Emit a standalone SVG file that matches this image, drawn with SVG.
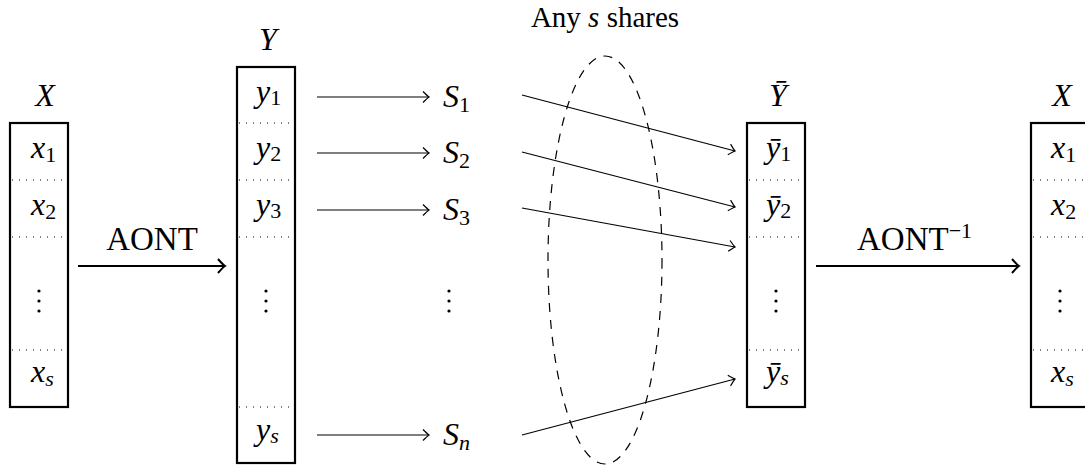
<svg xmlns="http://www.w3.org/2000/svg" width="1085" height="466" viewBox="0 0 1085 466" font-family="'Liberation Serif', 'Times New Roman', 'DejaVu Serif', serif">
<defs>
<style>
text{font-family:"Liberation Serif","Times New Roman",Tinos,"DejaVu Serif",serif;fill:#000}
.m{font-size:32px}
.big{font-size:33px}
.sub{font-size:22px;font-style:normal}
.i{font-style:italic}
.box{fill:none;stroke:#000;stroke-width:2.2}
.sep{stroke:#000;stroke-width:1;stroke-dasharray:1 6}
.thin{stroke:#000;stroke-width:1.2;fill:none}
.thick{stroke:#000;stroke-width:2;fill:none}
.ell{fill:none;stroke:#000;stroke-width:1.2;stroke-dasharray:9 8}
</style>
<marker id="ah" markerWidth="14" markerHeight="14" refX="0" refY="0" viewBox="-10 -7 12 14" orient="auto" markerUnits="userSpaceOnUse">
<path d="M-6,-5.5 Q-1.5,-1 0,0 Q-1.5,1 -6,5.5" fill="none" stroke="#000" stroke-width="1.2"/>
</marker>
<marker id="ahT" markerWidth="16" markerHeight="16" refX="0" refY="0" viewBox="-10 -8 12 16" orient="auto" markerUnits="userSpaceOnUse">
<path d="M-7,-7 Q-2,-1.2 0,0 Q-2,1.2 -7,7" fill="none" stroke="#000" stroke-width="2"/>
</marker>
<g id="vd"><circle cx="0" cy="-10" r="1.6"/><circle cx="0" cy="0" r="1.6"/><circle cx="0" cy="10" r="1.6"/></g>
</defs>
<rect width="1085" height="466" fill="#fff"/>

<g id="nodeX">
<text class="m i" x="45" y="106" text-anchor="middle">X</text>
<rect class="box" x="10" y="123" width="58" height="284"/>
<line class="sep" x1="12" y1="180" x2="66" y2="180"/>
<line class="sep" x1="12" y1="237" x2="66" y2="237"/>
<line class="sep" x1="12" y1="350" x2="66" y2="350"/>
<text class="m i" x="31" y="158">x<tspan class="sub" dy="4">1</tspan></text>
<text class="m i" x="31" y="215">x<tspan class="sub" dy="4">2</tspan></text>
<use href="#vd" x="39" y="301"/>
<text class="m i" x="31" y="382">x<tspan class="sub i" dy="4">s</tspan></text>
</g>

<g id="nodeY">
<text class="m i" x="268" y="50" text-anchor="middle">Y</text>
<rect class="box" x="237" y="67" width="58" height="396"/>
<line class="sep" x1="239" y1="123" x2="293" y2="123"/>
<line class="sep" x1="239" y1="180" x2="293" y2="180"/>
<line class="sep" x1="239" y1="237" x2="293" y2="237"/>
<line class="sep" x1="239" y1="407" x2="293" y2="407"/>
<text class="m i" x="256" y="102">y<tspan class="sub" dy="3">1</tspan></text>
<text class="m i" x="256" y="158">y<tspan class="sub" dy="3">2</tspan></text>
<text class="m i" x="256" y="215">y<tspan class="sub" dy="3">3</tspan></text>
<use href="#vd" x="266" y="301"/>
<text class="m i" x="256" y="440">y<tspan class="sub i" dy="3">s</tspan></text>
</g>

<g id="nodeS">
<text class="m i" x="443" y="107">S<tspan class="sub" dy="5">1</tspan></text>
<text class="m i" x="443" y="163">S<tspan class="sub" dy="5">2</tspan></text>
<text class="m i" x="443" y="220">S<tspan class="sub" dy="5">3</tspan></text>
<use href="#vd" x="449" y="301"/>
<text class="m i" x="443" y="445">S<tspan class="sub i" dy="5">n</tspan></text>
</g>

<g id="share-set">
<ellipse class="ell" cx="605" cy="260" rx="57" ry="204"/>
<text x="605" y="27" text-anchor="middle" style="font-size:29px">Any <tspan class="i">s</tspan> shares</text>
</g>

<g id="nodeYbar">
<text class="m i" x="778" y="106" text-anchor="middle">Ȳ</text>
<rect class="box" x="747" y="123" width="58" height="284"/>
<line class="sep" x1="749" y1="180" x2="803" y2="180"/>
<line class="sep" x1="749" y1="237" x2="803" y2="237"/>
<line class="sep" x1="749" y1="350" x2="803" y2="350"/>
<text class="m i" x="766" y="158">ȳ<tspan class="sub" dy="3">1</tspan></text>
<text class="m i" x="766" y="215">ȳ<tspan class="sub" dy="3">2</tspan></text>
<use href="#vd" x="776" y="301"/>
<text class="m i" x="766" y="382">ȳ<tspan class="sub i" dy="3">s</tspan></text>
</g>

<g id="nodeX2">
<text class="m i" x="1062" y="106" text-anchor="middle">X</text>
<rect class="box" x="1031" y="123" width="58" height="284"/>
<line class="sep" x1="1033" y1="180" x2="1087" y2="180"/>
<line class="sep" x1="1033" y1="237" x2="1087" y2="237"/>
<line class="sep" x1="1033" y1="350" x2="1087" y2="350"/>
<text class="m i" x="1051" y="158">x<tspan class="sub" dy="4">1</tspan></text>
<text class="m i" x="1051" y="215">x<tspan class="sub" dy="4">2</tspan></text>
<use href="#vd" x="1060" y="301"/>
<text class="m i" x="1051" y="382">x<tspan class="sub i" dy="4">s</tspan></text>
</g>

<g id="connectors">
<line class="thick" x1="78" y1="266" x2="225" y2="266" marker-end="url(#ahT)"/>
<text class="big" x="152" y="250" text-anchor="middle">AONT</text>
<line class="thin" x1="317" y1="97" x2="429" y2="97" marker-end="url(#ah)"/>
<line class="thin" x1="317" y1="153" x2="429" y2="153" marker-end="url(#ah)"/>
<line class="thin" x1="317" y1="210" x2="429" y2="210" marker-end="url(#ah)"/>
<line class="thin" x1="317" y1="435" x2="429" y2="435" marker-end="url(#ah)"/>
<line class="thin" x1="522" y1="95" x2="735" y2="151" marker-end="url(#ah)"/>
<line class="thin" x1="522" y1="152" x2="735" y2="207" marker-end="url(#ah)"/>
<line class="thin" x1="522" y1="208" x2="735" y2="247" marker-end="url(#ah)"/>
<line class="thin" x1="522" y1="435" x2="735" y2="379" marker-end="url(#ah)"/>
<line class="thick" x1="816" y1="266" x2="1019" y2="266" marker-end="url(#ahT)"/>
<text class="big" x="857" y="250">AONT<tspan class="sub" dy="-12">−1</tspan></text>
</g>
</svg>
